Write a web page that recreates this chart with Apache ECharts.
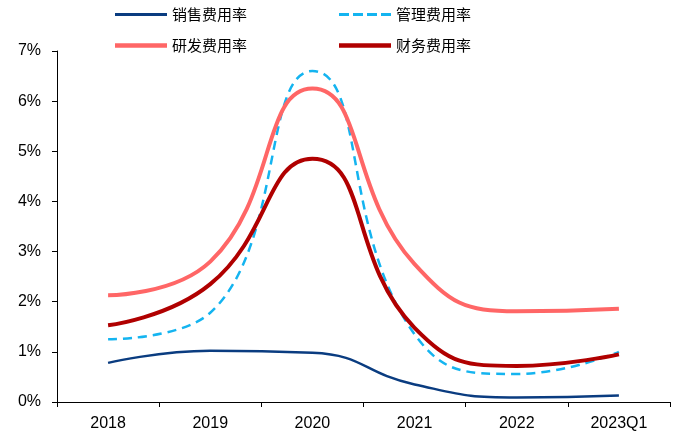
<!DOCTYPE html>
<html>
<head>
<meta charset="utf-8">
<script src="https://cdn.jsdelivr.net/npm/echarts@6/dist/echarts.min.js"></script>
<style>html,body{margin:0;padding:0;background:#fff;}#c{width:683px;height:437px;}</style>
</head>
<body>
<div id="c"></div>
<script>
const categories = ['2018', '2019', '2020', '2021', '2022', '2023Q1'];
const salesRate = [0.78, 1.02, 0.98, 0.35, 0.09, 0.13];
const adminRate = [1.25, 1.78, 6.6, 1.35, 0.56, 1.0];
const rdRate = [2.13, 2.8, 6.25, 2.75, 1.81, 1.86];
const finRate = [1.53, 2.35, 4.85, 1.48, 0.72, 0.95];
const names = ['销售费用率', '管理费用率', '研发费用率', '财务费用率'];

const solidThin = 'path://M0,0H52V3H0Z';
const solidThick = 'path://M0,0H52V4.5H0Z';
const dashed = 'path://M0,0H10V3H0Z M14,0H24V3H14Z M28,0H38V3H28Z M42,0H52V3H42Z';

const chart = echarts.init(document.getElementById('c'));
const legendText = { fontFamily: 'Noto Sans CJK SC', fontSize: 15, color: '#000' };
chart.setOption({
  animation: false,
  legend: [
    { data: [{ name: names[0], icon: solidThin }, { name: names[1], icon: dashed }], left: 110, top: 2, itemWidth: 52, itemHeight: 14, itemGap: 92, textStyle: legendText },
    { data: [{ name: names[2], icon: solidThick }, { name: names[3], icon: solidThick }], left: 110, top: 33, itemWidth: 52, itemHeight: 14, itemGap: 92, textStyle: legendText }
  ],
  grid: { left: 57, right: 13, top: 51, bottom: 35 },
  xAxis: {
    type: 'category', data: categories, boundaryGap: true,
    axisLine: { lineStyle: { color: '#000', width: 1 } },
    axisTick: { show: true, length: 5, lineStyle: { color: '#000' } },
    axisLabel: { color: '#000', fontSize: 16, fontFamily: 'Liberation Sans', margin: 14 }
  },
  yAxis: {
    type: 'value', min: 0, max: 7, interval: 1,
    axisLine: { show: true, lineStyle: { color: '#000', width: 1 } },
    axisTick: { show: true, length: 5, lineStyle: { color: '#000' } },
    splitLine: { show: false },
    axisLabel: { color: '#000', fontSize: 16, fontFamily: 'Liberation Sans', margin: 16, formatter: '{value}%' }
  },
  series: [
    { name: names[0], type: 'line', data: salesRate, smooth: 0.5, symbol: 'none', lineStyle: { color: '#0A3C80', width: 2.5 }, itemStyle: { color: '#0A3C80' } },
    { name: names[1], type: 'line', data: adminRate, smooth: 0.5, symbol: 'none', lineStyle: { color: '#14B4F0', width: 2.5, type: [9, 6] }, itemStyle: { color: '#14B4F0' } },
    { name: names[2], type: 'line', data: rdRate, smooth: 0.5, symbol: 'none', lineStyle: { color: '#FF6666', width: 4 }, itemStyle: { color: '#FF6666' } },
    { name: names[3], type: 'line', data: finRate, smooth: 0.5, symbol: 'none', lineStyle: { color: '#B00000', width: 4 }, itemStyle: { color: '#B00000' } }
  ]
});
</script>
</body>
</html>
